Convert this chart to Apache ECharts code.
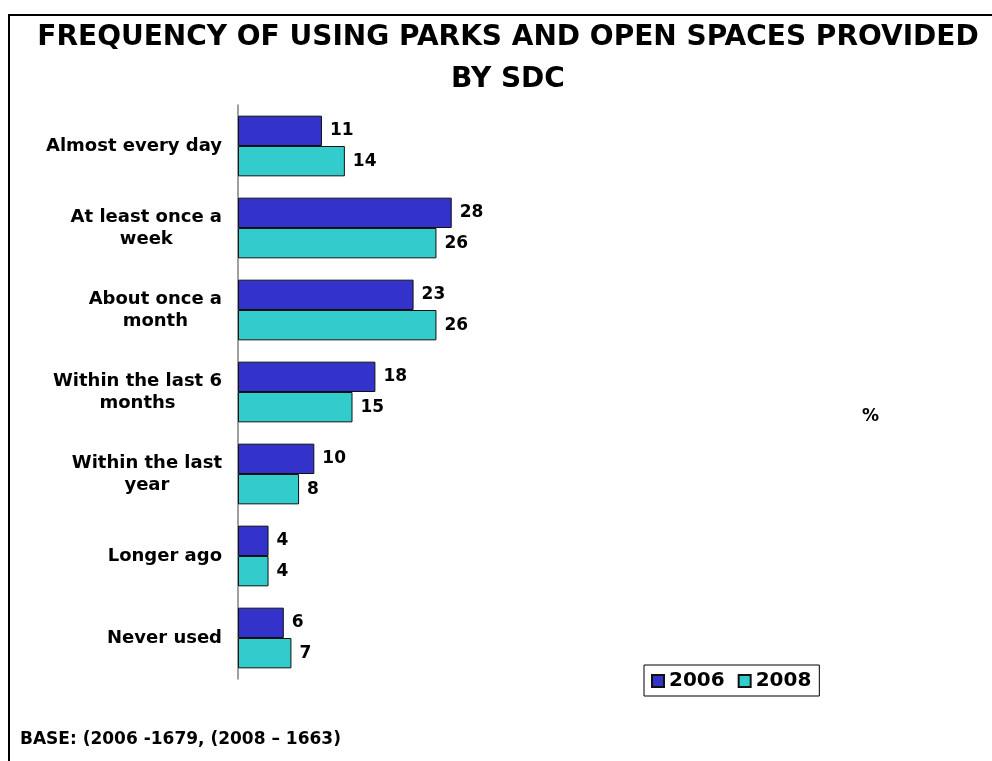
<!DOCTYPE html>
<html>
<head>
<meta charset="utf-8">
<script src="https://cdn.jsdelivr.net/npm/echarts@6/dist/echarts.min.js"></script>
<style>
html,body{margin:0;padding:0;background:#fff;}
#chart{width:992px;height:761px;}
</style>
</head>
<body>
<div id="chart"></div>
<script>
var categories = [
  'Almost every day',
  'At least once a\nweek',
  'About once a\nmonth',
  'Within the last 6\nmonths',
  'Within the last\nyear',
  'Longer ago',
  'Never used'
];
var values2006 = [11, 28, 23, 18, 10, 4, 6];
var values2008 = [14, 26, 26, 15, 8, 4, 7];
var seriesNames = ['2006', '2008'];
var titleLines = ['FREQUENCY OF USING PARKS AND OPEN SPACES PROVIDED', 'BY SDC'];
var baseNote = 'BASE: (2006 -1679, (2008 \u2013 1663)';
var unitLabel = '%';

var FONT = 'DejaVu Sans';
var chart = echarts.init(document.getElementById('chart'), null, {renderer: 'canvas'});

var option = {
  backgroundColor: '#fff',
  animation: false,
  title: {
    text: titleLines.join('\n'),
    left: 503,
    textAlign: 'center',
    top: 12,
    textStyle: {fontFamily: FONT, fontWeight: 'bold', fontSize: 28, color: '#000', lineHeight: 42}
  },
  legend: {
    data: seriesNames,
    left: 644,
    top: 665,
    orient: 'horizontal',
    itemWidth: 12,
    itemHeight: 12,
    itemGap: 13,
    padding: [6, 8, 5, 7],
    borderColor: '#000',
    borderWidth: 1,
    icon: 'rect',
    textStyle: {fontFamily: FONT, fontWeight: 'bold', fontSize: 20, color: '#000'}
  },
  grid: {left: 238, top: 105, right: 296, bottom: 82, containLabel: false},
  xAxis: {
    type: 'value', min: 0, max: 60, show: false,
    splitLine: {show: false}
  },
  yAxis: {
    type: 'category',
    data: categories,
    inverse: true,
    axisLine: {show: true, lineStyle: {color: '#808080', width: 1.5}},
    axisTick: {show: false},
    axisLabel: {
      margin: 16,
      formatter: function (v) {
        return v.split('\n').map(function (l) { return '{c|' + l + '}'; }).join('\n');
      },
      rich: {
        c: {align: 'center', fontFamily: FONT, fontWeight: 'bold', fontSize: 18, color: '#000', lineHeight: 22}
      }
    }
  },
  series: [
    {
      name: seriesNames[0], type: 'bar', data: values2006,
      barGap: '0%', barCategoryGap: '26%',
      itemStyle: {color: '#3333CC', borderColor: '#111', borderWidth: 1},
      label: {show: true, position: 'right', distance: 8, fontFamily: FONT, fontWeight: 'bold', fontSize: 17, color: '#000'}
    },
    {
      name: seriesNames[1], type: 'bar', data: values2008,
      barGap: '0%', barCategoryGap: '26%',
      itemStyle: {color: '#33CCCC', borderColor: '#111', borderWidth: 1},
      label: {show: true, position: 'right', distance: 8, fontFamily: FONT, fontWeight: 'bold', fontSize: 17, color: '#000'}
    }
  ],
  graphic: [
    {
      type: 'polyline', silent: true,
      shape: {points: [[9, 761], [9, 15], [992, 15]]},
      style: {stroke: '#000', lineWidth: 2, fill: null}
    },
    {
      type: 'text', left: 862, top: 408, silent: true,
      style: {text: unitLabel, fontFamily: FONT, fontWeight: 'bold', fontSize: 17, fill: '#000'}
    },
    {
      type: 'text', left: 20, top: 731, silent: true,
      style: {text: baseNote, fontFamily: FONT, fontWeight: 'bold', fontSize: 17, fill: '#000'}
    }
  ]
};
chart.setOption(option);
</script>
</body>
</html>
